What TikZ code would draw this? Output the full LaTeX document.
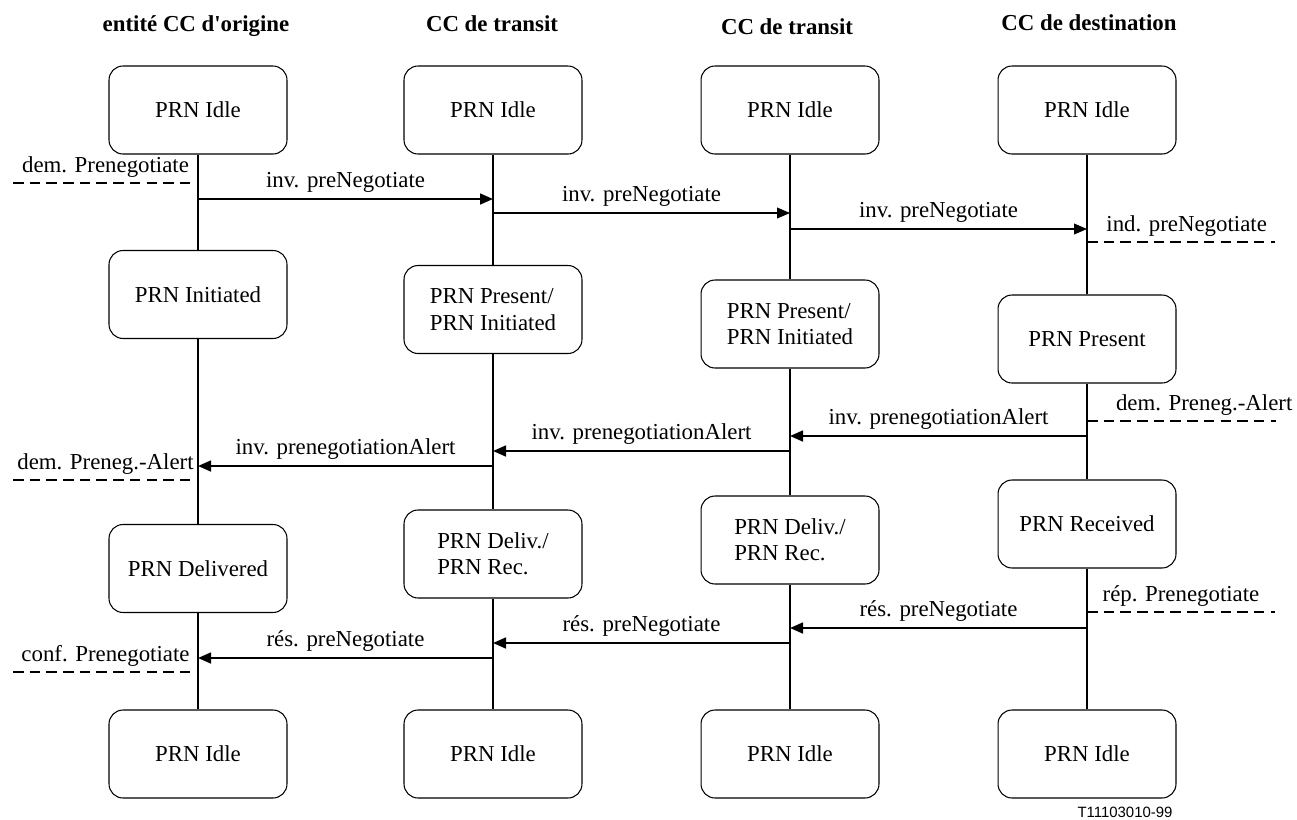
\documentclass[tikz,border=0pt]{standalone}
\usepackage{fontspec}
\setmainfont{Liberation Serif}
\newfontfamily\refsans{Liberation Sans}
\usepackage{tikz}
\usetikzlibrary{arrows.meta}
\tikzstyle{state} = [rectangle, rounded corners=0.28cm,
minimum width=3.56cm,
minimum height=1.76cm,
align=left,
draw=black,
line width=0.6pt]
\tikzstyle{head} = [font=\fontsize{13}{15}\selectfont\bfseries,
anchor=base]
\tikzstyle{life} = [line width=1pt]
\tikzstyle{msg} = [line width=1.1pt, -{Triangle[length=7.4pt,width=6.2pt]}]
\tikzstyle{thinmsg} = [line width=0.6pt, -{Triangle[length=7.4pt,width=6.2pt]}]
\tikzstyle{prim} = [line width=0.9pt, dash pattern=on 6pt off 3.5pt]

\begin{document}
\begin{tikzpicture}[x=0.02cm, y=-0.02cm, font=\fontsize{13}{15}\selectfont]
\useasboundingbox (0,0) rectangle (1297,819);

\node (ho) [head] at (196,31) {entité CC d\textquotesingle origine};
\node (hta) [head] at (492,31) {CC de transit};
\node (htb) [head] at (787,34) {CC de transit};
\node (hd) [head] at (1089,30) {CC de destination};

\node (o1) [state] at (198,110) {PRN Idle};
\node (o2) [state] at (198,294.5) {PRN Initiated};
\node (o3) [state] at (198,568.5) {PRN Delivered};
\node (o4) [state] at (198,754) {PRN Idle};
\node (ta1) [state] at (493,110) {PRN Idle};
\node (ta2) [state] at (493,309.5) {PRN Present/\\PRN Initiated};
\node (ta3) [state] at (493,554) {PRN Deliv./\\PRN Rec.};
\node (ta4) [state] at (493,754) {PRN Idle};
\node (tb1) [state] at (790,110) {PRN Idle};
\node (tb2) [state] at (790,324) {PRN Present/\\PRN Initiated};
\node (tb3) [state] at (790,540) {PRN Deliv./\\PRN Rec.};
\node (tb4) [state] at (790,754) {PRN Idle};
\node (d1) [state] at (1087,110) {PRN Idle};
\node (d2) [state] at (1087,339) {PRN Present};
\node (d3) [state] at (1087,524) {PRN Received};
\node (d4) [state] at (1087,754) {PRN Idle};

\draw [life] (o1) -- (o2) (o2) -- (o3) (o3) -- (o4);
\draw [life] (ta1) -- (ta2) (ta2) -- (ta3) (ta3) -- (ta4);
\draw [life] (tb1) -- (tb2) (tb2) -- (tb3) (tb3) -- (tb4);
\draw [life] (d1) -- (d2) (d2) -- (d3) (d3) -- (d4);

% primitives at the two ends
\coordinate (pl1) at (13,183);
\coordinate (pl2) at (13,480);
\coordinate (pl3) at (13,672);
\coordinate (pr1) at (1275,242);
\coordinate (pr2) at (1276,421);
\coordinate (pr3) at (1275,612);
\draw [prim] (pl1) -- node[above, inner sep=3pt] {dem. Prenegotiate} (o1 |- pl1);
\draw [prim] (pl2) -- node[above, inner sep=3pt] {dem. Preneg.-Alert} (o2 |- pl2);
\draw [prim] (pl3) -- node[above, inner sep=3pt] {conf. Prenegotiate} (o3 |- pl3);
\draw [prim, line width=0.6pt] (d1 |- pr1) -- node[above, inner sep=3pt, pos=.53] {ind. preNegotiate} (pr1);
\draw [prim] (d2 |- pr2) -- node[above, inner sep=3pt, pos=.62] {dem. Preneg.-Alert} (pr2);
\draw [prim] (d3 |- pr3) -- node[above, inner sep=3pt, pos=.5] {rép. Prenegotiate} (pr3);

% messages between the entities
\draw [msg] (o1 |- 0,199) -- node[above] {inv. preNegotiate} (ta1 |- 0,199);
\draw [thinmsg] (ta1 |- 0,213) -- node[above] {inv. preNegotiate} (tb1 |- 0,213);
\draw [thinmsg] (tb1 |- 0,229) -- node[above] {inv. preNegotiate} (d1 |- 0,229);
\draw [msg] (d2 |- 0,436) -- node[above] {inv. prenegotiationAlert} (tb2 |- 0,436);
\draw [msg] (tb2 |- 0,451) -- node[above] {inv. prenegotiationAlert} (ta2 |- 0,451);
\draw [msg] (ta2 |- 0,466) -- node[above] {inv. prenegotiationAlert} (o2 |- 0,466);
\draw [msg] (d3 |- 0,628) -- node[above] {rés. preNegotiate} (tb3 |- 0,628);
\draw [msg] (tb3 |- 0,643) -- node[above] {rés. preNegotiate} (ta3 |- 0,643);
\draw [msg] (ta3 |- 0,658) -- node[above] {rés. preNegotiate} (o3 |- 0,658);

\node (ref) [font=\refsans\fontsize{8.5}{10}\selectfont] at (1125,812) {T11103010-99};

\end{tikzpicture}
\end{document}
